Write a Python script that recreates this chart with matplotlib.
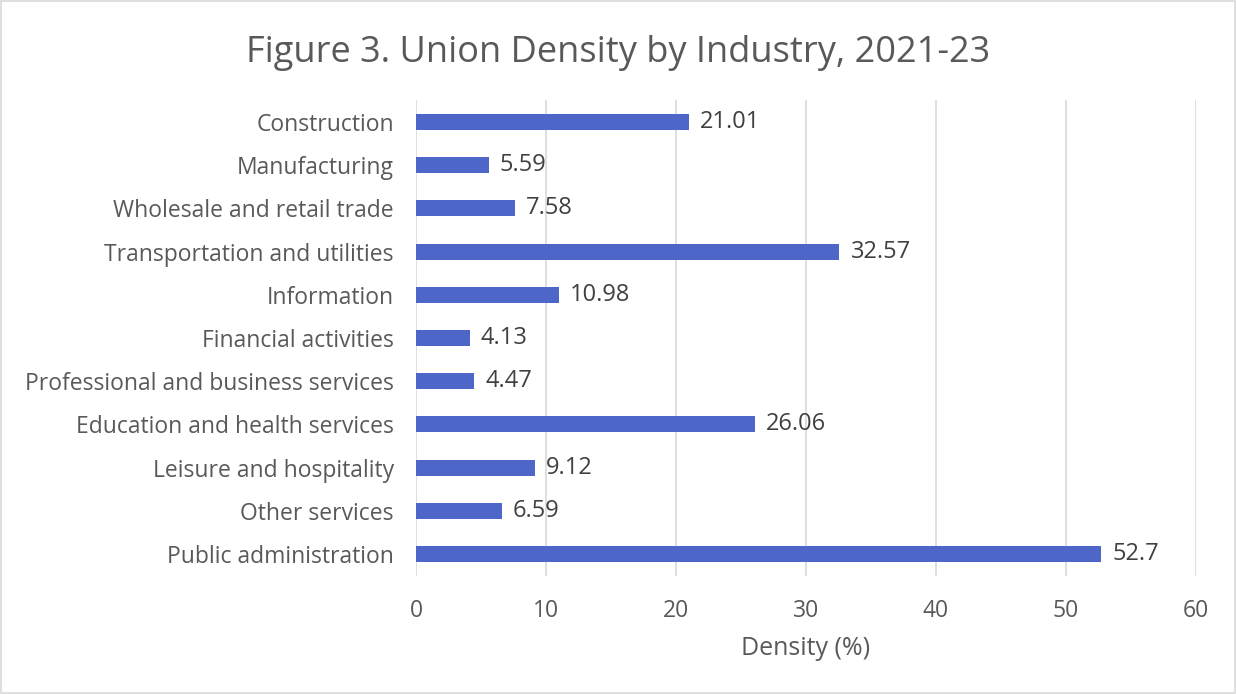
import matplotlib.pyplot as plt
from matplotlib.patches import Rectangle

plt.rcParams['font.family'] = ['Open Sans', 'DejaVu Sans']

industries = [
    "Construction",
    "Manufacturing",
    "Wholesale and retail trade",
    "Transportation and utilities",
    "Information",
    "Financial activities",
    "Professional and business services",
    "Education and health services",
    "Leisure and hospitality",
    "Other services",
    "Public administration",
]
density = [21.01, 5.59, 7.58, 32.57, 10.98, 4.13, 4.47, 26.06, 9.12, 6.59, 52.7]
x_ticks = [0, 10, 20, 30, 40, 50, 60]

text_grey = '#595959'
bar_blue = '#4F66C9'

fig = plt.figure(figsize=(12.36, 6.94), dpi=100)
ax = fig.add_axes([0.3366, 0.1706, 0.631, 0.6847])

pos = list(range(len(industries)))
ax.barh(pos, density, height=0.37, color=bar_blue, zorder=3)
for p, v in zip(pos, density):
    ax.text(v + 0.85, p, f"{v:g}", va='center', ha='left', fontsize=17, color='#404040')

ax.set_ylim(len(industries) - 0.5, -0.5)
ax.set_xlim(0, 60)
ax.set_yticks(pos)
ax.set_yticklabels(industries, fontsize=16.5, color=text_grey)
ax.set_xticks(x_ticks)
ax.set_xticklabels([str(t) for t in x_ticks], fontsize=16.5, color=text_grey)
ax.tick_params(axis='both', length=0)
ax.tick_params(axis='y', pad=16)
ax.tick_params(axis='x', pad=17)
ax.grid(axis='x', color='#D9D9D9', linewidth=1.2, zorder=0)
for s in ax.spines.values():
    s.set_visible(False)

ax.set_xlabel("Density (%)", fontsize=18, color=text_grey, labelpad=9)
fig.text(0.5, 0.924, "Figure 3. Union Density by Industry, 2021-23",
         ha='center', va='center', fontsize=26, color=text_grey)

fig.patches.append(Rectangle((0.001, 0.001), 0.998, 0.997, transform=fig.transFigure,
                             fill=False, edgecolor='#D9D9D9', linewidth=1.2))

fig.savefig('out.png', dpi=100, facecolor='white')
